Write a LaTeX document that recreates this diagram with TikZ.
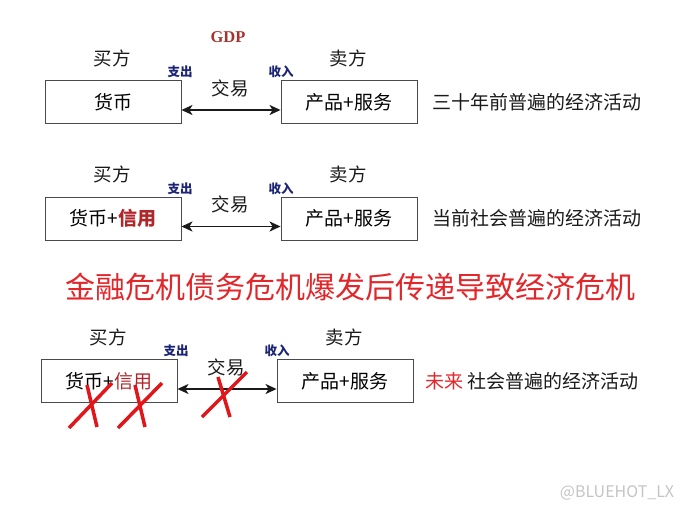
\documentclass[tikz,border=0pt]{standalone}
\usepackage{fontspec}
\setmainfont{Noto Sans CJK SC}
\newfontfamily\gdpfont{Liberation Serif}
\usepackage{tikz}
\usetikzlibrary{arrows.meta}
\definecolor{InkBlack}{HTML}{1A1A1A}
\definecolor{BoxGray}{HTML}{4A4A4A}
\definecolor{AlarmRed}{HTML}{E2262A}
\definecolor{CreditRed}{HTML}{B0262A}
\definecolor{CrossRed}{HTML}{E0161B}
\definecolor{FlowBlue}{HTML}{1C2475}
\definecolor{GdpRed}{HTML}{A8322D}
\definecolor{MarkGray}{HTML}{C4C4C4}

\begin{document}
\begin{tikzpicture}[x=1pt, y=-1pt,
  box/.style={draw=BoxGray, line width=0.9pt, minimum width=136pt,
    minimum height=43pt, inner sep=0pt, font=\fontsize{19}{19}\selectfont},
  side/.style={font=\fontsize{18.5}{18.5}\selectfont, text=InkBlack},
  flow/.style={font=\fontsize{12.5}{12.5}\selectfont\bfseries, text=FlowBlue},
  trade/.style={{Stealth[length=11pt,width=10pt,inset=3pt]}-{Stealth[length=11pt,width=10pt,inset=3pt]},
    line width=1.8pt, draw=InkBlack},
  cross/.style={draw=CrossRed, line width=3.5pt}]
  \useasboundingbox (0,0) rectangle (690,509);
  % three rows: buyer box, seller box, trade arrow
  \foreach \r/\y/\dx/\money/\nx/\note in {
    1/102/0/{货币}/432/{三十年前普遍的经济活动},
    2/218.5/0/{货币+{\bfseries\color{CreditRed}信用}}/432/{当前社会普遍的经济活动},
    3/381/-4/{货币+{\color{CreditRed}信用}}/425/{{\color{AlarmRed}未来} 社会普遍的经济活动}} {
    \node[box] (buy\r) at (113+\dx,\y) {\money};
    \node[box] (sell\r) at (349+\dx,\y) {产品+服务};
    \draw[trade] ([yshift=-8pt]buy\r.east) -- ([yshift=-8pt]sell\r.west);
    \node[side] (buyer\r) at (112+\dx,\y-44) {买方};
    \node[side] (seller\r) at (348+\dx,\y-44) {卖方};
    \node[flow] (pay\r) at (180+\dx,\y-30) {支出};
    \node[flow] (earn\r) at (281+\dx,\y-30) {收入};
    \node[side] (deal\r) at (230+\dx,\y-14) {交易};
    \node[side, font=\fontsize{19}{19}\selectfont, anchor=west, inner sep=0pt] (note\r) at (\nx,\y) {\note};
  }
  % heading and GDP
  \node[font=\gdpfont\fontsize{16.5}{16.5}\selectfont\bfseries, text=GdpRed] (gdp) at (228,37) {GDP};
  \node[font=\fontsize{30}{30}\selectfont, text=AlarmRed] (headline) at (350,287)
    {金融危机债务危机爆发后传递导致经济危机};
  % red crosses over the third row
  \foreach \ax/\ay/\bx/\by in {69/428/112/383, 87/385/97/427,
      118/428/162/383, 135/385/145/427, 202/417/247/372, 218/377/230/417}
    \draw[cross] (\ax,\ay) -- (\bx,\by);
  % watermark
  \node[font=\fontsize{16}{16}\selectfont, text=MarkGray] (mark) at (617,493) {@BLUEHOT\_LX};
\end{tikzpicture}
\end{document}
